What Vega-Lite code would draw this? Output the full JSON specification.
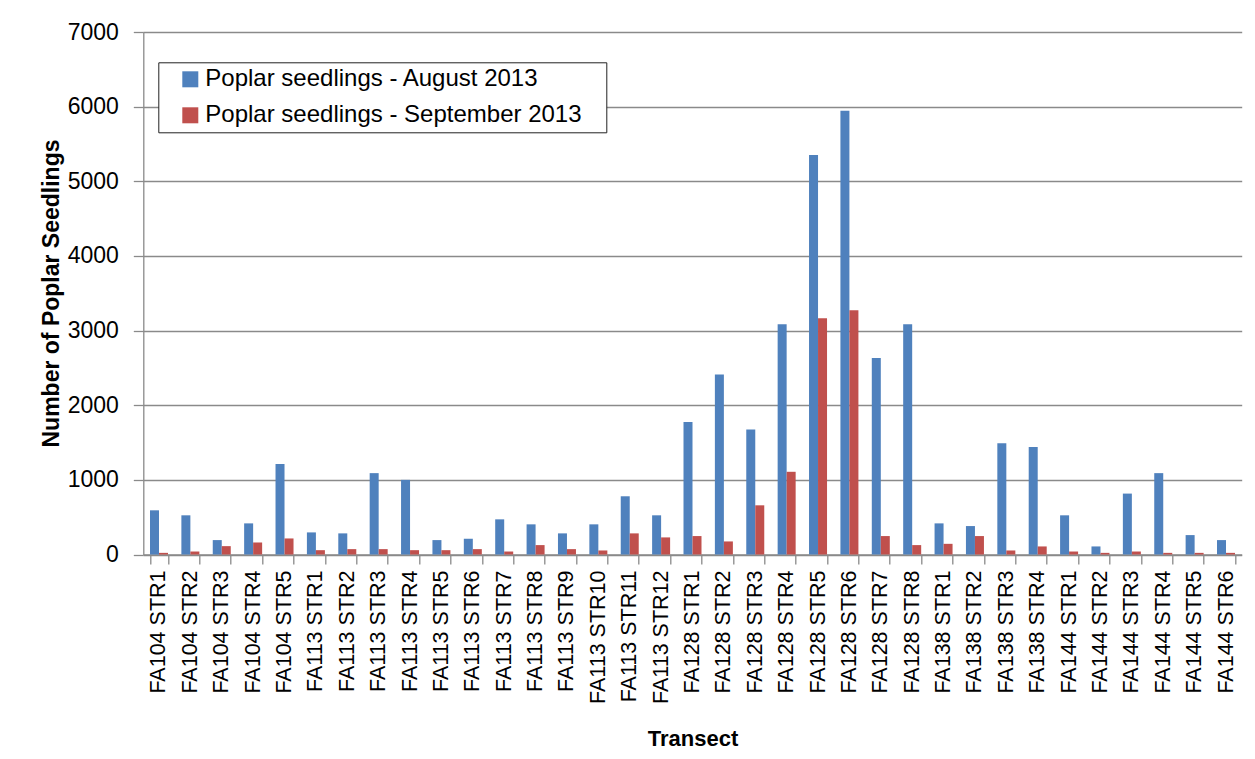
{
  "$schema": "https://vega.github.io/schema/vega-lite/v6.json",
  "autosize": {"type": "none"},
  "padding": {"left": 143.3, "top": 32, "right": 13.3, "bottom": 204.5},
  "width": 1098.4,
  "height": 522.5,
  "background": "white",
  "data": {
    "values": [
      {"t": "FA104 STR1", "Poplar seedlings - August 2013": 592, "Poplar seedlings - September 2013": 22},
      {"t": "FA104 STR2", "Poplar seedlings - August 2013": 525, "Poplar seedlings - September 2013": 40},
      {"t": "FA104 STR3", "Poplar seedlings - August 2013": 193, "Poplar seedlings - September 2013": 112},
      {"t": "FA104 STR4", "Poplar seedlings - August 2013": 417, "Poplar seedlings - September 2013": 161},
      {"t": "FA104 STR5", "Poplar seedlings - August 2013": 1211, "Poplar seedlings - September 2013": 215},
      {"t": "FA113 STR1", "Poplar seedlings - August 2013": 296, "Poplar seedlings - September 2013": 58},
      {"t": "FA113 STR2", "Poplar seedlings - August 2013": 283, "Poplar seedlings - September 2013": 72},
      {"t": "FA113 STR3", "Poplar seedlings - August 2013": 1090, "Poplar seedlings - September 2013": 72},
      {"t": "FA113 STR4", "Poplar seedlings - August 2013": 1000, "Poplar seedlings - September 2013": 58},
      {"t": "FA113 STR5", "Poplar seedlings - August 2013": 193, "Poplar seedlings - September 2013": 58},
      {"t": "FA113 STR6", "Poplar seedlings - August 2013": 211, "Poplar seedlings - September 2013": 72},
      {"t": "FA113 STR7", "Poplar seedlings - August 2013": 471, "Poplar seedlings - September 2013": 40},
      {"t": "FA113 STR8", "Poplar seedlings - August 2013": 404, "Poplar seedlings - September 2013": 126},
      {"t": "FA113 STR9", "Poplar seedlings - August 2013": 283, "Poplar seedlings - September 2013": 72},
      {"t": "FA113 STR10", "Poplar seedlings - August 2013": 404, "Poplar seedlings - September 2013": 54},
      {"t": "FA113 STR11", "Poplar seedlings - August 2013": 780, "Poplar seedlings - September 2013": 283},
      {"t": "FA113 STR12", "Poplar seedlings - August 2013": 525, "Poplar seedlings - September 2013": 229},
      {"t": "FA128 STR1", "Poplar seedlings - August 2013": 1775, "Poplar seedlings - September 2013": 247},
      {"t": "FA128 STR2", "Poplar seedlings - August 2013": 2410, "Poplar seedlings - September 2013": 175},
      {"t": "FA128 STR3", "Poplar seedlings - August 2013": 1675, "Poplar seedlings - September 2013": 659},
      {"t": "FA128 STR4", "Poplar seedlings - August 2013": 3086, "Poplar seedlings - September 2013": 1108},
      {"t": "FA128 STR5", "Poplar seedlings - August 2013": 5351, "Poplar seedlings - September 2013": 3166},
      {"t": "FA128 STR6", "Poplar seedlings - August 2013": 5945, "Poplar seedlings - September 2013": 3273},
      {"t": "FA128 STR7", "Poplar seedlings - August 2013": 2634, "Poplar seedlings - September 2013": 247},
      {"t": "FA128 STR8", "Poplar seedlings - August 2013": 3086, "Poplar seedlings - September 2013": 126},
      {"t": "FA138 STR1", "Poplar seedlings - August 2013": 417, "Poplar seedlings - September 2013": 143},
      {"t": "FA138 STR2", "Poplar seedlings - August 2013": 381, "Poplar seedlings - September 2013": 247},
      {"t": "FA138 STR3", "Poplar seedlings - August 2013": 1489, "Poplar seedlings - September 2013": 54},
      {"t": "FA138 STR4", "Poplar seedlings - August 2013": 1439, "Poplar seedlings - September 2013": 108},
      {"t": "FA144 STR1", "Poplar seedlings - August 2013": 525, "Poplar seedlings - September 2013": 40},
      {"t": "FA144 STR2", "Poplar seedlings - August 2013": 108, "Poplar seedlings - September 2013": 22},
      {"t": "FA144 STR3", "Poplar seedlings - August 2013": 816, "Poplar seedlings - September 2013": 40},
      {"t": "FA144 STR4", "Poplar seedlings - August 2013": 1090, "Poplar seedlings - September 2013": 22},
      {"t": "FA144 STR5", "Poplar seedlings - August 2013": 260, "Poplar seedlings - September 2013": 22},
      {"t": "FA144 STR6", "Poplar seedlings - August 2013": 193, "Poplar seedlings - September 2013": 22}
    ]
  },
  "transform": [
    {"fold": ["Poplar seedlings - August 2013", "Poplar seedlings - September 2013"], "as": ["series", "value"]}
  ],
  "mark": {"type": "bar"},
  "encoding": {
    "x": {
      "field": "t",
      "type": "nominal",
      "sort": null,
      "scale": {"paddingInner": 0.4264, "paddingOuter": 0.2132},
      "axis": {
        "title": "Transect",
        "labelAngle": -90,
        "labelFont": "Liberation Sans",
        "labelFontSize": 21.5,
        "labelColor": "black",
        "labelPadding": 6,
        "tickBand": "extent",
        "tickSize": 9.5,
        "tickColor": "#8a8a8a",
        "domainColor": "#8a8a8a",
        "titleFont": "Liberation Sans",
        "titleFontSize": 22,
        "titleFontWeight": "bold",
        "titleColor": "black",
        "titleY": 190.5,
        "titleBaseline": "alphabetic",
        "grid": false
      }
    },
    "xOffset": {
      "field": "series",
      "type": "nominal",
      "scale": {"paddingInner": 0, "paddingOuter": 0}
    },
    "y": {
      "field": "value",
      "type": "quantitative",
      "scale": {"domain": [0, 7000], "nice": false},
      "axis": {
        "title": "Number of Poplar Seedlings",
        "values": [0, 1000, 2000, 3000, 4000, 5000, 6000, 7000],
        "format": "d",
        "labelFont": "Liberation Sans",
        "labelFontSize": 23,
        "labelColor": "black",
        "labelPadding": 15,
        "tickSize": 10,
        "tickColor": "#8a8a8a",
        "domainColor": "#8a8a8a",
        "grid": true,
        "gridColor": "#8a8a8a",
        "gridOpacity": 1,
        "titleFont": "Liberation Sans",
        "titleFontSize": 23,
        "titleFontWeight": "bold",
        "titleColor": "black",
        "titleAngle": -90,
        "titleX": -85,
        "titleY": 261,
        "titleAlign": "center",
        "titleBaseline": "alphabetic"
      }
    },
    "color": {
      "field": "series",
      "type": "nominal",
      "scale": {
        "domain": ["Poplar seedlings - August 2013", "Poplar seedlings - September 2013"],
        "range": ["#4F81BD", "#C0504D"]
      },
      "legend": {
        "title": " ",
        "titleOrient": "right",
        "titleFontSize": 4,
        "titlePadding": 20,
        "orient": "none",
        "legendX": 15,
        "legendY": 30.3,
        "strokeColor": "#222222",
        "fillColor": "white",
        "padding": 5,
        "symbolType": "square",
        "symbolSize": 256,
        "symbolStrokeWidth": 0,
        "symbolOffset": 15,
        "labelFont": "Liberation Sans",
        "labelFontSize": 24,
        "labelColor": "black",
        "labelOffset": 3,
        "labelLimit": 600,
        "rowPadding": 12
      }
    }
  },
  "config": {
    "view": {"stroke": null},
    "axis": {"domainWidth": 1.3, "tickWidth": 1.3, "gridWidth": 1.3}
  }
}
